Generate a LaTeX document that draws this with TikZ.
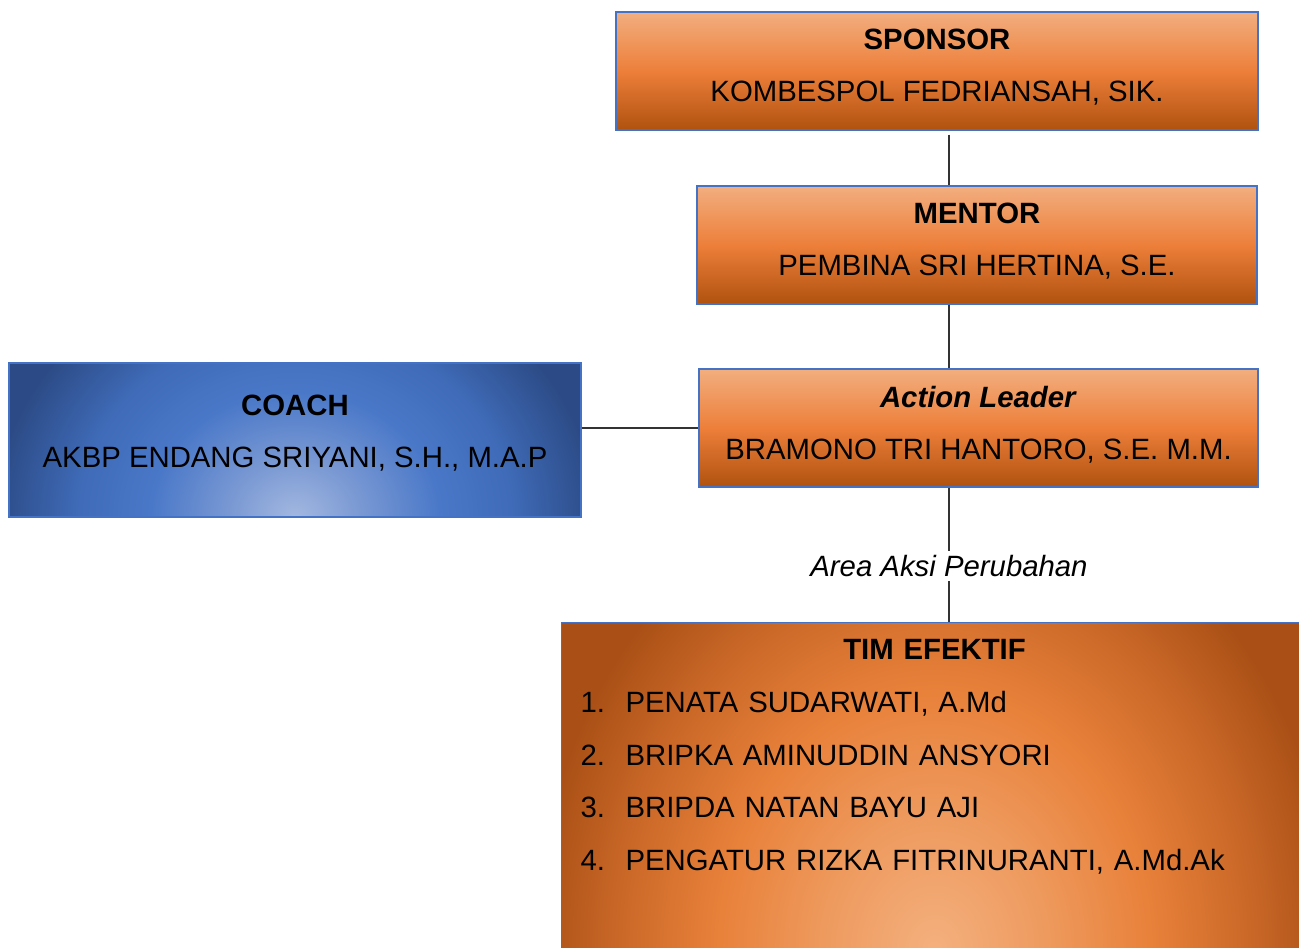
\documentclass[tikz,border=0pt]{standalone}
\usepackage{fontspec}
\setmainfont{Liberation Sans}
\usetikzlibrary{calc}
\definecolor{edge}{HTML}{4472C4}
\definecolor{ortop}{HTML}{F2AE7F}
\definecolor{ormid}{HTML}{ED7F3A}
\definecolor{orbot}{HTML}{B0520F}
\definecolor{blueedge}{HTML}{2C4B86}
\definecolor{bluemid2}{HTML}{3F6BB8}
\definecolor{bluemid}{HTML}{4A78C8}
\definecolor{bluesoft}{HTML}{7D9BD4}
\definecolor{bluelight}{HTML}{A3B8E0}
\definecolor{brownedge}{HTML}{AA5016}
\definecolor{brownmid2}{HTML}{CE6B2A}
\definecolor{brownmid}{HTML}{E8813A}
\definecolor{peachsoft}{HTML}{EE9A5E}
\definecolor{peach}{HTML}{F4B07E}
\definecolor{wire}{HTML}{333333}
\pgfdeclareradialshading{coachspot}{\pgfpointorigin}{color(0bp)=(bluelight); color(5bp)=(bluesoft);
  color(12bp)=(bluemid); color(18bp)=(bluemid2); color(25bp)=(blueedge); color(50bp)=(blueedge)}
\pgfdeclareradialshading{timspot}{\pgfpointorigin}{color(0bp)=(peach); color(7bp)=(peachsoft);
  color(13.5bp)=(brownmid); color(19bp)=(brownmid2); color(25bp)=(brownedge); color(50bp)=(brownedge)}
\tikzset{
  orbox/.style  ={draw=edge, line width=.8pt, top color=ortop, bottom color=orbot, middle color=ormid,
                  align=center, inner sep=0pt, minimum height=88.5pt, text depth=8pt,
                  font=\fontsize{22}{39}\selectfont},
  cobox/.style  ={draw=edge, line width=.8pt, fill=blueedge,
                  align=center, inner sep=0pt, text depth=13pt, font=\fontsize{22}{39}\selectfont,
                  path picture={\shade[shading=coachspot] (path picture bounding box.south) ellipse [x radius=225pt, y radius=195pt];}},
  timbox/.style ={draw=edge, line width=.8pt, fill=brownedge, inner sep=0pt,
                  path picture={\shade[shading=timspot] ([yshift=4pt]path picture bounding box.south) ellipse [x radius=300pt, y radius=360pt];}},
  ln/.style     ={draw=wire, line width=.8pt},
  lbl/.style    ={font=\fontsize{22}{26}\selectfont\itshape},
}

\begin{document}
\begin{tikzpicture}[x=0.75pt,y=-0.75pt]
  \useasboundingbox (0,0) rectangle (1299,947);
  \path[clip] (0,0) rectangle (1299,947);

  \node[orbox,minimum width=481.5pt] (sponsor) at (937,71)
    {\textbf{SPONSOR}\\ KOMBESPOL FEDRIANSAH, SIK.};
  \node[orbox,minimum width=420pt] (mentor) at (977,245)
    {\textbf{MENTOR}\\ PEMBINA SRI HERTINA, S.E.};
  \node[orbox,minimum width=419.25pt] (leader) at (978.5,428)
    {\textbf{\textit{Action Leader}}\\ BRAMONO TRI HANTORO, S.E. M.M.};
  \node[cobox,minimum width=429pt,minimum height=115.5pt] (coach) at (295,440)
    {\textbf{COACH}\\ AKBP ENDANG SRIYANI, S.H., M.A.P};
  \node[lbl] (area) at (949,566) {Area Aksi Perubahan};
  \node[timbox,anchor=north west,minimum width=559.5pt,minimum height=249.75pt] (tim) at (561,622) {};
  \node[anchor=north,align=left,text width=531pt,inner sep=0pt,font=\fontsize{22}{39.5}\selectfont]
    (timlist) at ([yshift=-13pt]tim.north)
    {\makebox[\hsize]{\textbf{TIM EFEKTIF}}\\
     \makebox[33.75pt][l]{1.}PENATA SUDARWATI, A.Md\\
     \makebox[33.75pt][l]{2.}BRIPKA AMINUDDIN ANSYORI\\
     \makebox[33.75pt][l]{3.}BRIPDA NATAN BAYU AJI\\
     \makebox[33.75pt][l]{4.}PENGATUR RIZKA FITRINURANTI, A.Md.Ak};

  \draw[ln] ([yshift=-3pt]sponsor.south -| area.center) -- (mentor.north -| area.center);
  \draw[ln] (mentor.south -| area.center) -- (leader.north -| area.center);
  \draw[ln] (coach.east |- leader.west) -- (leader.west);
  \draw[ln] (leader.south -| area.center) -- (area.north);
  \draw[ln] (area.south) -- (tim.north -| area.center);
\end{tikzpicture}
\end{document}
